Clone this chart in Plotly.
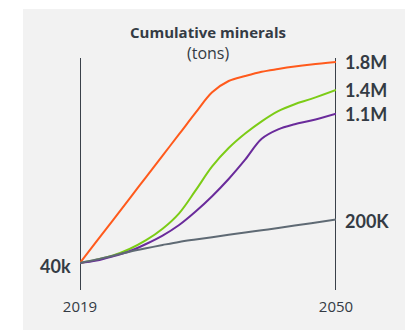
import numpy as np
import plotly.graph_objects as go

# Years sampled along each curve
years = [2019, 2021, 2023, 2025, 2027, 2029, 2031, 2033, 2035, 2037,
         2039, 2041, 2043, 2045, 2047, 2050]

# Cumulative minerals, millions of tons
orange_vals = [0.04, 0.104, 0.197, 0.320, 0.474, 0.657, 0.868, 1.111, 1.369,
               1.523, 1.594, 1.656, 1.696, 1.732, 1.762, 1.8]
green_vals = [0.04, 0.0479, 0.0589, 0.0782, 0.1086, 0.1559, 0.2327, 0.3752,
              0.5608, 0.7283, 0.8757, 1.0103, 1.1301, 1.215, 1.2823, 1.4]
purple_vals = [0.04, 0.0456, 0.0564, 0.0710, 0.0948, 0.1265, 0.1730, 0.2427,
               0.3359, 0.4587, 0.6193, 0.8203, 0.9199, 0.9763, 1.0194, 1.1]
gray_vals = [0.04, 0.0481, 0.0583, 0.0695, 0.0804, 0.0914, 0.1023, 0.1112,
             0.1201, 0.1298, 0.1394, 0.1488, 0.1595, 0.1702, 0.1811, 0.2]

end_labels = ["1.8M", "1.4M", "1.1M", "200K"]
start_label = "40k"
year_ticks = [2019, 2050]

colors = ["#ff5a1c", "#7ccc16", "#6a2b9b", "#5f6a74"]
series = [orange_vals, green_vals, purple_vals, gray_vals]

ink = "#343b44"
label_font = "Lato, 'Open Sans', sans-serif"
title_font = "'Open Sans', Lato, sans-serif"

fig = go.Figure()

# Square-root value scale
for vals, col in zip(series, colors):
    fig.add_trace(go.Scatter(
        x=years, y=np.sqrt(vals), mode="lines",
        line=dict(color=col, width=2, shape="spline", smoothing=1.0),
        cliponaxis=False, hoverinfo="skip", showlegend=False,
    ))

# End-of-line value labels
label_shift = [0, 0, 0, -2]
for vals, text, dy in zip(series, end_labels, label_shift):
    fig.add_annotation(
        x=years[-1], y=np.sqrt(vals[-1]), text=f"<b>{text}</b>",
        xanchor="left", yanchor="middle", xshift=7, yshift=dy,
        showarrow=False, font=dict(size=18, color=ink, family=label_font),
    )

fig.add_annotation(
    x=years[0], y=np.sqrt(orange_vals[0]), text=f"<b>{start_label}</b>",
    xanchor="right", yanchor="middle", xshift=-7, yshift=-3,
    showarrow=False, font=dict(size=18, color=ink, family=label_font),
)

# Title block
fig.add_annotation(
    x=0.5, y=1.112, xref="paper", yref="paper", text="<b>Cumulative minerals</b>",
    showarrow=False, xanchor="center", yanchor="middle",
    font=dict(size=15, color=ink, family=title_font),
)
fig.add_annotation(
    x=0.5, y=1.02, xref="paper", yref="paper", text="(tons)",
    showarrow=False, xanchor="center", yanchor="middle",
    font=dict(size=16, color=ink, family=title_font),
)

shapes = [
    # light grey panel
    dict(type="rect", xref="paper", yref="paper", x0=-0.2227, x1=1.2695,
         y0=-0.1724, y1=1.2112, fillcolor="#f2f2f2", line=dict(width=0),
         layer="below"),
]
for yr in year_ticks:
    shapes.append(dict(type="line", xref="x", yref="paper", x0=yr, x1=yr,
                       y0=0, y1=1, line=dict(color="#3a414a", width=2),
                       layer="below"))

fig.update_layout(
    width=405, height=330,
    margin=dict(l=80, r=69, t=58, b=40),
    paper_bgcolor="white", plot_bgcolor="rgba(0,0,0,0)",
    shapes=shapes,
    xaxis=dict(range=[2019, 2050], tickvals=year_ticks,
               ticktext=[str(y) for y in year_ticks], ticks="",
               showgrid=False, zeroline=False, showline=False,
               tickfont=dict(size=15, color=ink, family=title_font),
               ticklabelstandoff=6, fixedrange=True),
    yaxis=dict(range=[0.0466, 1.3648], visible=False, fixedrange=True),
)

fig.write_html("out.html")
